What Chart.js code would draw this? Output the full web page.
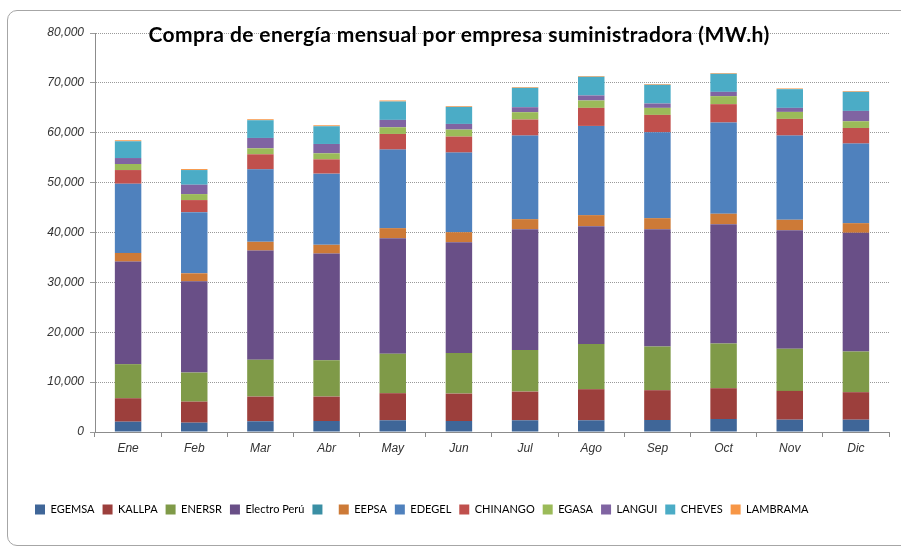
<!DOCTYPE html>
<html>
<head>
<meta charset="utf-8">
<script src="https://cdn.jsdelivr.net/npm/chart.js@4"></script>
<style>
  body { margin: 0; background: #fff; }
  #wrap { position: relative; width: 901px; height: 546px; overflow: hidden; }
  #frame { position: absolute; left: 7px; top: 10px; width: 920px; height: 534px;
           border: 1px solid #a6a6a6; border-radius: 10px; }
  #title { position: absolute; left: 0; top: 21px; width: 918px; text-align: center;
           font: bold 21px Lato, sans-serif; letter-spacing: 0.4px; color: #000; }
  canvas { position: absolute; left: 0; top: 0; }
</style>
</head>
<body>
<div id="wrap">
  <div id="frame"></div>
  <canvas id="chart" width="901" height="546"></canvas>
  <div id="title">Compra de energía mensual por empresa suministradora (MW.h)</div>
</div>
<script>
const months = ["Ene", "Feb", "Mar", "Abr", "May", "Jun", "Jul", "Ago", "Sep", "Oct", "Nov", "Dic"];

// MW.h por empresa, de abajo hacia arriba en cada barra
const egemsa      = [2070, 1870, 2150, 2210, 2350, 2210, 2350, 2350, 2410, 2610, 2470, 2470];
const kallpa      = [4700, 4220, 4950, 4890, 5430, 5490, 5750, 6230, 5970, 6170, 5770, 5510];
const enersr      = [6830, 5830, 7370, 7310, 7900, 8120, 8320, 9050, 8770, 8970, 8440, 8160];
const electroPeru = [20570, 18290, 21910, 21370, 23180, 22230, 24240, 23640, 23510, 23920, 23780, 23800];
const sinNombre   = [0, 0, 0, 0, 0, 0, 0, 0, 0, 0, 0, 0];
const eepsa       = [1730, 1610, 1750, 1750, 2010, 2010, 2010, 2210, 2210, 2090, 2090, 1930];
const edegel      = [13880, 12260, 14530, 14270, 15750, 15960, 16760, 17890, 17230, 18290, 16880, 15960];
const chinango    = [2740, 2420, 3020, 2870, 3140, 3210, 3220, 3620, 3480, 3680, 3350, 3130];
const egasa       = [1210, 1200, 1200, 1210, 1340, 1410, 1470, 1480, 1410, 1610, 1400, 1350];
const langui      = [1200, 1880, 2080, 1870, 1480, 1130, 1000, 1010, 870, 860, 810, 2070];
const cheves      = [3360, 2940, 3550, 3550, 3690, 3410, 3880, 3740, 3750, 3620, 3750, 3820];
const lambrama    = [200, 200, 200, 200, 200, 150, 140, 140, 140, 140, 140, 140];

const yMax = 80000;
const yStep = 10000;

const series = [
  ["EGEMSA", egemsa, "#3f6698"],
  ["KALLPA", kallpa, "#9c3f3c"],
  ["ENERSR", enersr, "#7f9a48"],
  ["Electro Perú", electroPeru, "#694f87"],
  [" ", sinNombre, "#3a8fa4"],
  ["EEPSA", eepsa, "#cd7a37"],
  ["EDEGEL", edegel, "#4f81bd"],
  ["CHINANGO", chinango, "#c0504d"],
  ["EGASA", egasa, "#9bbb59"],
  ["LANGUI", langui, "#8064a2"],
  ["CHEVES", cheves, "#4bacc6"],
  ["LAMBRAMA", lambrama, "#f79646"]
];

const tickFont = { family: "'Liberation Sans', Arial, sans-serif", size: 12, style: "italic" };

new Chart(document.getElementById("chart"), {
  type: "bar",
  data: {
    labels: months,
    datasets: series.map(([label, data, color]) => ({
      label: label,
      data: data,
      backgroundColor: color,
      borderWidth: 0,
      categoryPercentage: 1,
      barPercentage: 0.4
    }))
  },
  options: {
    responsive: false,
    animation: false,
    layout: { padding: { left: 27, right: 12, top: 33, bottom: 21 } },
    plugins: {
      title: { display: false },
      tooltip: { enabled: false },
      legend: {
        position: "bottom",
        align: "start",
        labels: {
          boxWidth: 10,
          boxHeight: 10,
          padding: 8,
          color: "#000",
          font: { family: "Lato, sans-serif", size: 11 }
        }
      }
    },
    scales: {
      x: {
        stacked: true,
        afterFit: (scale) => { scale.height = 64; },
        grid: { drawOnChartArea: false, drawTicks: true, tickLength: 5, color: "#8c8c8c" },
        border: { color: "#8c8c8c" },
        ticks: { font: tickFont, color: "#333", padding: 4 }
      },
      y: {
        stacked: true,
        min: 0,
        max: yMax,
        afterFit: (scale) => { scale.width = 68; },
        grid: { color: "#9a9a9a", tickLength: 5, tickBorderDash: [] },
        border: { color: "#8c8c8c", dash: [1, 1] },
        ticks: {
          stepSize: yStep,
          font: tickFont,
          color: "#333",
          padding: 6,
          callback: (v) => v.toLocaleString("en-US")
        }
      }
    }
  }
});
</script>
</body>
</html>
